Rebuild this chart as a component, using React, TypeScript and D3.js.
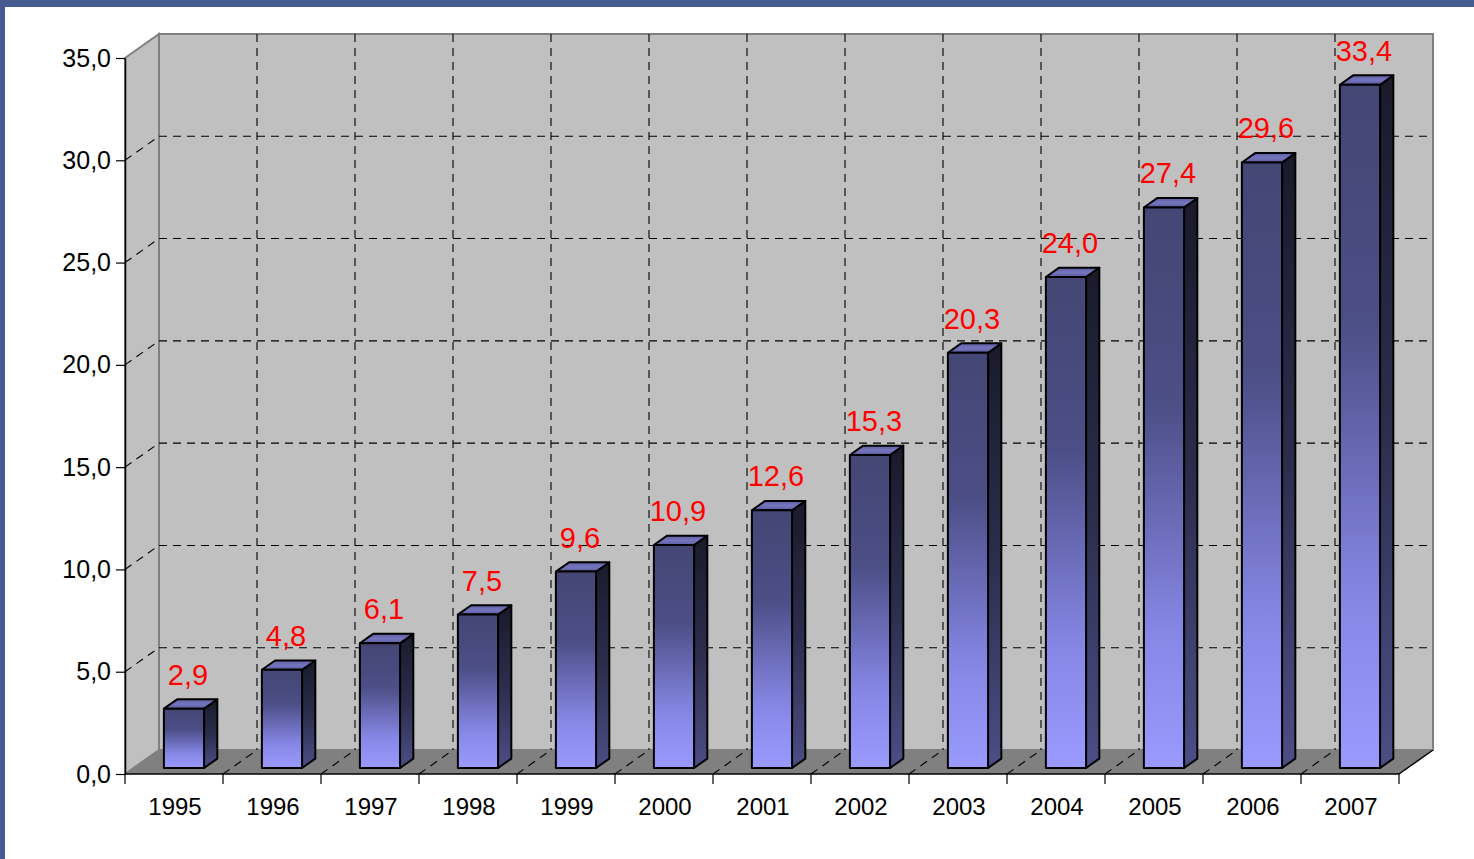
import { useEffect, useRef } from 'react'
import * as d3 from 'd3'

const years = ['1995', '1996', '1997', '1998', '1999', '2000', '2001', '2002', '2003', '2004', '2005', '2006', '2007']
const values = [2.9, 4.8, 6.1, 7.5, 9.6, 10.9, 12.6, 15.3, 20.3, 24.0, 27.4, 29.6, 33.4]
const yTicks = [0, 5, 10, 15, 20, 25, 30, 35]

const W = 1474
const H = 859

export default function App() {
  const svgRef = useRef<SVGSVGElement>(null)

  useEffect(() => {
    if (!svgRef.current) return
    const svg = d3.select(svgRef.current)
    svg.selectAll('*').remove()

    // front plane of the 3D box
    const left = 125
    const right = 1399
    const bottom = 774
    const top = 58
    // depth vector
    const DX = 34
    const DY = -24
    const font = 'Arial, "Liberation Sans", sans-serif'

    const x = d3.scaleBand().domain(years).range([left, right]).padding(0)
    const y = d3.scaleLinear().domain([0, 35]).range([bottom, top])
    const fmt = (v: number) => d3.format('.1f')(v).replace('.', ',')
    const P = (px: number, py: number, f: number) => [px + DX * f, py + DY * f]
    const pts = (arr: number[][]) => arr.map(p => p.join(',')).join(' ')

    // frame
    svg.append('rect').attr('width', W).attr('height', H).attr('fill', '#fff')
    svg.append('rect').attr('width', W).attr('height', 7).attr('fill', '#465b8f')
    svg.append('rect').attr('width', 5).attr('height', H).attr('fill', '#465b8f')

    const defs = svg.append('defs')
    const front = defs.append('linearGradient').attr('id', 'gFront').attr('x1', 0).attr('y1', 0).attr('x2', 0).attr('y2', 1)
    front.append('stop').attr('offset', 0).attr('stop-color', '#444674')
    front.append('stop').attr('offset', 0.35).attr('stop-color', '#4c4e86')
    front.append('stop').attr('offset', 0.75).attr('stop-color', '#8586e4')
    front.append('stop').attr('offset', 1).attr('stop-color', '#9a9aff')
    const side = defs.append('linearGradient').attr('id', 'gSide').attr('x1', 0).attr('y1', 0).attr('x2', 0).attr('y2', 1)
    side.append('stop').attr('offset', 0).attr('stop-color', '#1a1a2b')
    side.append('stop').attr('offset', 0.5).attr('stop-color', '#2c2d4c')
    side.append('stop').attr('offset', 1).attr('stop-color', '#4c4e86')
    const topG = defs.append('linearGradient').attr('id', 'gTop').attr('x1', 0).attr('y1', 1).attr('x2', 0).attr('y2', 0)
    topG.append('stop').attr('offset', 0).attr('stop-color', '#5a5c9c')
    topG.append('stop').attr('offset', 0.5).attr('stop-color', '#7676c0')
    topG.append('stop').attr('offset', 1).attr('stop-color', '#5d5fa0')

    // back wall
    svg.append('rect')
      .attr('x', left + DX).attr('y', top + DY)
      .attr('width', right - left).attr('height', bottom - top)
      .attr('fill', '#c0c0c0').attr('stroke', '#808080').attr('stroke-width', 2)

    // left wall
    svg.append('polygon')
      .attr('points', pts([[left, bottom], [left, top], P(left, top, 1), P(left, bottom, 1)]))
      .attr('fill', '#c0c0c0').attr('stroke', '#808080').attr('stroke-width', 2)

    // grid on back wall and left wall
    const grid = svg.append('g').attr('stroke', '#000').attr('stroke-width', 1.1).attr('stroke-dasharray', '8,6').attr('fill', 'none')
    yTicks.filter(v => v > 0 && v < 35).forEach(v => {
      grid.append('line')
        .attr('x1', left + DX).attr('x2', right + DX)
        .attr('y1', y(v) + DY).attr('y2', y(v) + DY)
      grid.append('line')
        .attr('x1', left).attr('y1', y(v))
        .attr('x2', left + DX).attr('y2', y(v) + DY)
    })
    years.slice(1).forEach(yr => {
      const gx = (x(yr) as number) + DX
      grid.append('line').attr('x1', gx).attr('x2', gx).attr('y1', top + DY).attr('y2', bottom + DY)
    })

    // floor
    svg.append('polygon')
      .attr('points', pts([[left, bottom], [right, bottom], P(right, bottom, 1), P(left, bottom, 1)]))
      .attr('fill', '#808080')
    svg.append('line')
      .attr('x1', right).attr('y1', bottom).attr('x2', right + DX).attr('y2', bottom + DY)
      .attr('stroke', '#000').attr('stroke-width', 1.5)
    svg.append('line')
      .attr('x1', right + DX).attr('y1', bottom + DY).attr('x2', right + DX).attr('y2', top + DY)
      .attr('stroke', '#808080').attr('stroke-width', 2)
    const floorGrid = svg.append('g').attr('stroke', '#000').attr('stroke-width', 1.1).attr('stroke-dasharray', '8,6')
    years.slice(1).forEach(yr => {
      const gx = x(yr) as number
      floorGrid.append('line').attr('x1', gx).attr('y1', bottom).attr('x2', gx + DX).attr('y2', bottom + DY)
    })

    // bars
    const f1 = 0.25
    const f2 = 0.64
    const bw = x.bandwidth() * 0.41
    const bars = svg.append('g').attr('stroke', '#000').attr('stroke-width', 2).attr('stroke-linejoin', 'round')
    years.forEach((yr, i) => {
      const bx = (x(yr) as number) + x.bandwidth() * 0.31
      const yv = y(values[i])
      const a = P(bx, bottom, f1)
      const b = P(bx + bw, bottom, f1)
      const c = P(bx + bw, yv, f1)
      const d = P(bx, yv, f1)
      const c2 = P(bx + bw, yv, f2)
      const d2 = P(bx, yv, f2)
      const b2 = P(bx + bw, bottom, f2)
      bars.append('polygon').attr('points', pts([b, b2, c2, c])).attr('fill', 'url(#gSide)')
      bars.append('polygon').attr('points', pts([d, c, c2, d2])).attr('fill', 'url(#gTop)')
      bars.append('polygon').attr('points', pts([a, b, c, d])).attr('fill', 'url(#gFront)')

      svg.append('text')
        .attr('x', (a[0] + b[0]) / 2 + 4)
        .attr('y', d[1] - 24)
        .attr('text-anchor', 'middle')
        .attr('font-family', font)
        .attr('font-size', 29)
        .attr('fill', '#ff0000')
        .text(fmt(values[i]))
    })

    // y axis
    const yAxis = svg.append('g')
      .attr('transform', `translate(${left},0)`)
      .call(d3.axisLeft(y).tickValues(yTicks).tickFormat(d => fmt(d as number)).tickSize(9).tickPadding(5).tickSizeOuter(0))
    yAxis.select('.domain').attr('stroke', '#000').attr('stroke-width', 1.5)
    yAxis.selectAll('.tick line').attr('stroke', '#000').attr('stroke-width', 1.2)
    yAxis.selectAll('.tick text')
      .attr('font-family', font)
      .attr('font-size', 25).attr('fill', '#000')

    // x axis
    svg.append('line')
      .attr('x1', left).attr('x2', right).attr('y1', bottom).attr('y2', bottom)
      .attr('stroke', '#000').attr('stroke-width', 1.5)
    const xt = svg.append('g')
    ;[...years.map(yr => x(yr) as number), right].forEach(tx => {
      xt.append('line').attr('x1', tx).attr('x2', tx).attr('y1', bottom).attr('y2', bottom + 10)
        .attr('stroke', '#000').attr('stroke-width', 1.2)
    })
    years.forEach(yr => {
      xt.append('text')
        .attr('x', (x(yr) as number) + x.bandwidth() / 2 + 1)
        .attr('y', bottom + 41)
        .attr('text-anchor', 'middle')
        .attr('font-family', font)
        .attr('font-size', 24)
        .attr('fill', '#000')
        .text(yr)
    })
  }, [])

  return (
    <div style={{ position: 'absolute', left: 0, top: 0 }}>
      <svg ref={svgRef} width={W} height={H} style={{ display: 'block' }}></svg>
    </div>
  )
}
